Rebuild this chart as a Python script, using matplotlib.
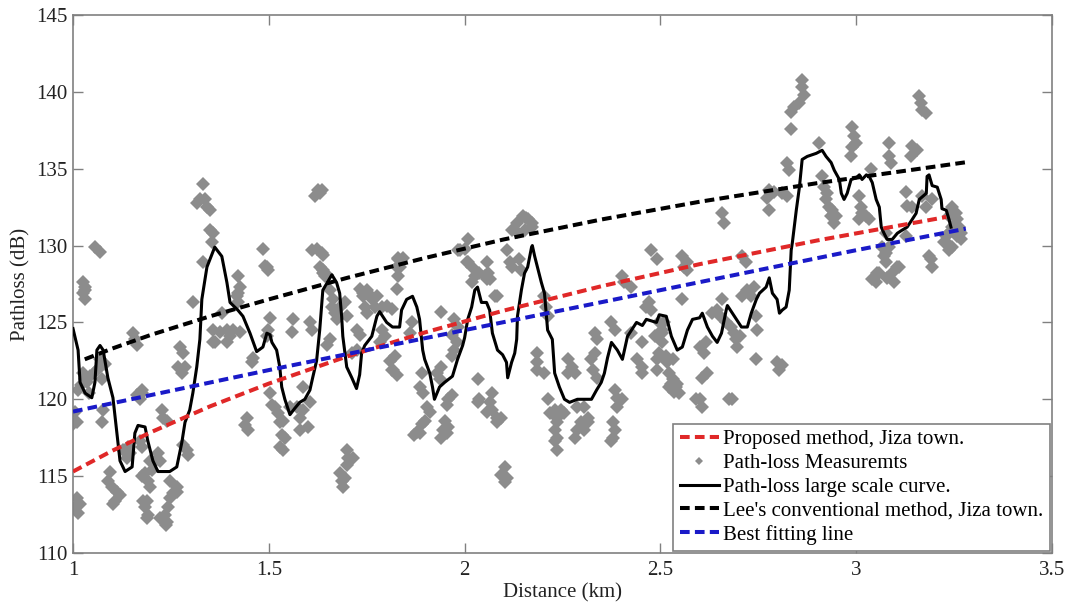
import matplotlib
matplotlib.use("Agg")
import matplotlib.pyplot as plt
from matplotlib.lines import Line2D

# === Data ===
# model curves (distance km, path loss dB)
proposed_d = [1.00, 1.10, 1.20, 1.35, 1.50, 1.70, 1.90, 2.10, 2.35, 2.60, 2.90, 3.23]
proposed_pl = [115.3, 116.65, 117.87, 119.54, 121.02, 122.79, 124.36, 125.77, 127.36, 128.79, 130.33, 131.86]

lee_d = [1.03, 1.10, 1.20, 1.35, 1.50, 1.70, 1.90, 2.10, 2.35, 2.60, 2.90, 3.28]
lee_pl = [122.6, 123.3, 124.2, 125.4, 126.5, 127.9, 129.2, 130.4, 131.7, 132.85, 134.06, 135.42]

fit_d = [1.00, 1.50, 2.00, 2.50, 3.00, 3.28]
fit_pl = [119.2, 121.9, 124.5, 127.1, 129.7, 131.1]

# large scale curve
large_d = [1.000, 1.013, 1.018, 1.031, 1.048, 1.056, 1.061, 1.069, 1.077, 1.089, 1.102, 1.112, 1.120,
           1.133, 1.151, 1.158, 1.166, 1.184, 1.191, 1.204, 1.217, 1.247, 1.265, 1.278, 1.286, 1.298,
           1.306, 1.316, 1.324, 1.329, 1.342, 1.362, 1.380, 1.393, 1.401, 1.421, 1.434, 1.452, 1.469,
           1.485, 1.495, 1.503, 1.508, 1.520, 1.528, 1.533, 1.541, 1.554, 1.566, 1.579, 1.592, 1.605,
           1.612, 1.622, 1.630, 1.638, 1.661, 1.673, 1.681, 1.686, 1.689, 1.699, 1.712, 1.724, 1.732,
           1.737, 1.745, 1.763, 1.776, 1.783, 1.801, 1.816, 1.834,
           1.839, 1.852, 1.867, 1.878, 1.885, 1.893, 1.898, 1.911, 1.918, 1.923, 1.936, 1.949, 1.969,
           1.982, 1.995, 2.000, 2.008, 2.018, 2.026, 2.033, 2.043, 2.056, 2.064, 2.071, 2.084, 2.097,
           2.107, 2.110, 2.120, 2.128, 2.133, 2.135, 2.145, 2.153, 2.161, 2.171, 2.173, 2.179, 2.186,
           2.196, 2.204, 2.209, 2.212, 2.224, 2.230, 2.242, 2.255, 2.268, 2.288, 2.324, 2.337, 2.349,
           2.357, 2.365, 2.375, 2.390, 2.403, 2.416, 2.439, 2.454, 2.464, 2.490,
           2.497, 2.515, 2.528, 2.543, 2.556, 2.569, 2.582, 2.600, 2.607, 2.620, 2.633, 2.645, 2.656,
           2.668, 2.671, 2.689, 2.707, 2.722, 2.732, 2.745, 2.753, 2.770, 2.778, 2.786, 2.798, 2.804,
           2.811, 2.821, 2.829, 2.834, 2.837, 2.847, 2.855, 2.862, 2.875, 2.898, 2.913, 2.923, 2.936,
           2.944, 2.957, 2.962, 2.969, 2.977, 2.987, 3.000, 3.008, 3.015, 3.026, 3.033, 3.041, 3.051,
           3.059, 3.064, 3.071, 3.079, 3.092, 3.105, 3.117, 3.130, 3.143, 3.153, 3.161, 3.179, 3.181,
           3.186, 3.194, 3.207, 3.217, 3.219, 3.230, 3.237, 3.242]
large_pl = [124.6, 123.2, 121.1, 120.4, 120.1, 121.1, 123.2, 123.5, 123.2, 121.4, 120.1, 117.8, 116.0,
            115.3, 115.6, 117.8, 118.3, 118.2, 117.3, 116.0, 115.3, 115.3, 115.6, 117.2, 118.5, 119.3,
            120.4, 122.1, 123.9, 126.5, 128.6, 129.9, 129.3, 127.6, 126.3, 125.8, 125.4, 124.3, 123.1,
            123.4, 124.3, 124.2, 123.7, 123.2, 122.1, 120.8, 120.0, 119.0, 119.4, 119.8, 120.0, 120.6,
            121.4, 122.5, 124.5, 127.1, 128.1, 127.6, 126.9, 125.4, 124.1, 122.1, 121.4, 120.7, 121.6,
            123.0, 123.5, 124.1, 125.4, 125.7, 125.0, 124.7, 124.7,
            125.8, 126.5, 126.7, 126.0, 125.2, 123.2, 122.6, 121.7, 120.8, 120.0, 120.8, 121.1, 121.5,
            122.6, 123.5, 124.0, 125.2, 126.0, 127.1, 127.3, 126.3, 126.3, 125.8, 124.3, 123.2, 122.9,
            122.4, 121.4, 122.4, 123.0, 123.9, 125.4, 127.1, 128.2, 128.6, 129.9, 130.0, 129.3, 128.6,
            127.6, 126.9, 125.4, 124.5, 123.9, 121.7, 120.8, 120.0, 119.8, 120.0, 120.0, 120.6, 121.1,
            121.7, 122.7, 123.7, 123.2, 122.6, 124.1, 125.0, 124.8, 125.2, 125.0,
            125.5, 125.4, 124.1, 123.2, 123.4, 124.5, 125.2, 125.3, 125.6, 124.7, 124.1, 123.7, 124.3,
            125.8, 126.1, 125.4, 124.7, 124.7, 125.6, 126.5, 126.9, 127.3, 127.9, 126.9, 126.5, 125.6,
            125.8, 126.0, 127.1, 129.7, 130.2, 132.3, 133.8, 135.6, 135.8, 136.0, 136.2, 135.8, 135.4,
            134.9, 134.3, 133.4, 133.0, 133.4, 134.3, 134.4, 134.6, 134.3, 134.6, 134.5, 134.1, 133.0,
            132.5, 131.2, 130.8, 130.4, 130.4, 130.8, 131.0, 131.2, 131.7, 132.1, 133.0, 133.4, 134.5,
            134.6, 133.9, 133.8, 133.0, 132.4, 132.3, 131.7, 131.2]

# path-loss measurements
meas_d = [
    1.031, 1.026, 1.031, 1.056, 1.069, 1.332, 1.324, 1.316, 1.337, 1.342, 1.349, 1.349, 1.357, 1.354, 1.332,
    1.485, 1.495, 1.498, 1.625, 1.630, 1.617, 1.635, 1.610, 1.622, 1.635, 1.630, 1.638, 1.643, 1.421, 1.426, 1.421, 1.750, 1.740, 1.829, 1.827,
    1.026, 1.031, 1.306, 1.418, 1.421, 1.380, 1.357, 1.375, 1.393, 1.408, 1.426, 1.362, 1.401, 1.503, 1.498, 1.495, 1.490, 1.561, 1.559, 1.605,
    1.610, 1.638, 1.638, 1.648, 1.656, 1.663, 1.668, 1.673, 1.661, 1.681, 1.694, 1.699, 1.724, 1.732, 1.732, 1.740, 1.745, 1.750, 1.656, 1.648,
    1.005, 1.010, 1.000, 1.010, 1.018, 1.013, 1.005, 1.026, 1.036, 1.043, 1.061, 1.069, 1.074, 1.077, 1.074, 1.094, 1.089, 1.099, 1.112, 1.107,
    1.102, 1.120, 1.128, 1.138, 1.145, 1.140, 1.176, 1.171, 1.176, 1.176, 1.184, 1.191, 1.196, 1.189, 1.184, 1.189, 1.202, 1.209, 1.196, 1.227,
    1.230, 1.240, 1.217, 1.222, 1.247, 1.265, 1.255, 1.247, 1.242, 1.235, 1.240, 1.265, 1.281, 1.291, 1.294, 1.273, 1.281, 1.268, 1.278, 1.286,
    1.357, 1.393, 1.459, 1.457, 1.444, 1.439, 1.446, 1.503, 1.508, 1.515, 1.523, 1.528, 1.536, 1.533, 1.541, 1.528, 1.536, 1.554, 1.571, 1.587,
    1.579, 1.579, 1.599, 1.587, 1.605, 1.699, 1.702, 1.714, 1.699, 1.681, 1.686, 1.689, 1.694, 1.712, 1.724, 1.153, 1.158, 1.163, 1.176,
    1.829, 1.842, 1.834, 1.829, 1.827, 1.763, 1.776, 1.770, 1.788, 1.801, 1.814, 1.753, 1.788, 1.796, 1.783, 1.865, 1.860, 1.941, 1.974, 1.982,
    1.969, 1.980, 1.982, 2.008, 2.000, 2.008, 2.018, 2.026, 2.020, 2.051, 2.059, 2.064, 2.077, 2.084, 2.056, 2.120, 2.133, 2.148, 2.161, 2.135,
    2.153, 2.171, 2.107, 2.115, 2.120, 2.140, 2.145, 2.204, 2.209, 2.212, 2.332, 2.339, 2.375, 2.383, 2.401, 2.408, 2.426, 2.472, 2.477, 2.477,
    2.492, 2.452, 2.485, 2.503, 2.510, 2.426, 1.821, 1.814, 1.827, 1.890, 1.885, 1.893, 1.903, 1.911, 1.898, 1.890, 1.878, 1.872, 1.885, 1.929,
    1.941, 1.936, 1.957, 1.967, 1.954, 1.949, 1.957, 1.944, 1.941, 1.954, 1.969, 1.974, 2.033, 2.038, 2.033, 2.069, 2.064, 2.056, 2.071, 2.082,
    2.084, 2.094, 2.102, 2.094, 2.107, 2.102, 2.184, 2.186, 2.184, 2.204, 2.212, 2.217, 2.230, 2.237, 2.235, 2.230, 2.237, 2.230, 2.235, 2.247,
    2.255, 2.263, 2.273, 2.263, 2.281, 2.288, 2.306, 2.314, 2.298, 2.288, 2.281, 2.306, 2.314, 2.324, 2.332, 2.327, 2.337, 2.383, 2.390, 2.401,
    2.388, 2.378, 2.383, 2.378, 2.375, 2.441, 2.452, 2.454, 2.492, 2.492, 2.600, 2.612, 2.620, 2.607, 2.633, 2.676, 2.745, 2.464, 2.505, 2.515,
    2.531, 2.523, 2.531, 2.541, 2.548, 2.523, 2.600, 1.816, 1.809, 2.497, 2.503, 2.497, 2.518, 2.528, 2.543, 2.536, 2.592, 2.607, 2.684, 2.617,
    2.645, 2.651, 2.658, 2.668, 2.681, 2.689, 2.694, 2.702, 2.696, 2.709, 2.722, 2.740, 2.732, 2.745, 2.747, 2.798, 2.811, 2.804, 2.556, 2.569,
    2.556, 3.041, 3.054, 3.051, 3.092, 3.097, 3.105, 3.071, 3.077, 3.191, 3.194, 2.862, 2.862, 2.867, 2.855, 2.842, 2.834, 2.834, 2.906, 2.824,
    2.829, 2.778, 2.773, 2.778, 2.791, 2.811, 2.824, 2.658, 2.663, 2.913, 2.918, 2.926, 2.923, 2.931, 2.939, 2.949, 2.936, 2.944, 2.990, 2.995,
    2.990, 2.987, 3.000, 3.008, 3.013, 3.015, 3.026, 3.033, 3.008, 3.038, 3.084, 3.084, 3.089, 3.161, 3.166, 3.168, 3.179, 3.143, 3.156, 3.140,
    3.128, 3.130, 3.143, 3.168, 3.179, 3.194, 3.245, 3.255, 3.258, 3.263, 3.268, 3.237, 3.245, 3.258, 3.268, 3.230, 3.224, 3.237, 3.077, 3.084,
    3.077, 3.128, 3.059, 3.079, 3.110, 3.186, 3.230, 3.245, 3.237, 3.066, 1.987, 2.005, 2.038, 2.056, 2.158, 2.171, 2.719, 2.561, 2.569, 2.709,
    1.013, 1.020, 1.031, 1.040, 1.064, 1.082, 1.163, 1.171, 1.222, 1.237, 1.179, 1.191,
]
meas_pl = [
    127.3, 126.9, 126.5, 129.9, 129.6, 134.0, 133.0, 132.8, 133.0, 132.5, 132.3, 131.0, 130.8, 130.2, 128.9,
    129.8, 128.6, 128.4, 133.6, 133.4, 133.2, 133.6, 129.7, 129.8, 129.5, 128.6, 128.2, 128.0, 128.0, 127.3, 126.9, 127.1, 126.7, 129.1, 128.6,
    127.6, 127.1, 126.3, 126.7, 126.3, 125.6, 124.5, 124.4, 124.5, 124.5, 124.4, 123.7, 124.1, 125.3, 124.5, 124.1, 128.7, 125.2, 124.4, 125.0,
    124.5, 129.4, 128.4, 128.1, 127.1, 126.5, 125.6, 125.2, 126.0, 126.0, 126.3, 125.4, 124.5, 124.2, 127.2, 126.9, 126.0, 125.6, 123.9, 123.5,
    119.2, 118.5, 118.4, 113.6, 113.2, 112.6, 113.0, 121.7, 121.1, 121.5, 121.9, 122.6, 121.3, 119.3, 118.5, 115.3, 114.7, 114.3, 114.0, 113.4,
    113.2, 113.8, 116.7, 116.2, 116.5, 116.9, 120.4, 117.3, 116.9, 115.0, 115.2, 114.7, 114.3, 113.4, 113.0, 112.3, 115.4, 116.0, 116.0, 119.3,
    118.8, 118.6, 116.5, 116.0, 114.7, 114.3, 113.9, 113.6, 113.0, 112.5, 112.0, 114.0, 117.0, 116.7, 116.4, 123.4, 123.0, 122.1, 121.7, 122.1,
    123.7, 123.7, 122.7, 122.4, 118.8, 118.3, 118.0, 120.4, 119.6, 119.5, 119.1, 118.5, 118.6, 117.7, 117.5, 116.9, 116.7, 119.5, 119.5, 119.3,
    118.8, 118.0, 118.2, 120.8, 119.8, 116.7, 116.2, 116.2, 115.7, 115.2, 114.7, 114.3, 114.9, 123.0, 123.2, 124.3, 123.9, 123.5, 120.6,
    129.2, 129.2, 128.6, 128.0, 127.2, 126.5, 126.7, 126.0, 126.0, 126.1, 125.9, 126.9, 124.5, 124.1, 123.7, 125.0, 124.3, 125.7, 125.2, 124.7,
    124.2, 123.7, 129.7, 130.4, 129.8, 128.9, 128.6, 128.0, 127.6, 128.0, 128.2, 127.8, 126.7, 126.7, 128.9, 131.0, 131.5, 131.9, 131.7, 130.9,
    131.0, 131.2, 129.7, 128.9, 128.6, 129.1, 128.4, 126.7, 126.0, 125.4, 124.3, 123.9, 125.0, 124.5, 128.0, 127.6, 127.3, 126.3, 125.8, 129.7,
    129.1, 123.7, 124.1, 124.5, 125.0, 124.3, 122.8, 121.9, 121.6, 121.7, 120.8, 120.4, 119.5, 119.2, 118.6, 118.4, 117.9, 117.7, 117.8, 121.7,
    122.1, 121.3, 120.0, 120.3, 119.6, 118.6, 118.2, 118.0, 117.5, 117.8, 122.8, 123.2, 121.3, 120.0, 119.8, 120.4, 119.8, 119.2, 119.3, 118.8,
    118.5, 118.8, 115.6, 115.1, 114.9, 114.6, 123.0, 122.4, 121.9, 121.7, 120.0, 119.1, 119.3, 118.8, 118.5, 118.0, 117.5, 117.3, 116.7, 119.3,
    119.1, 122.6, 122.1, 121.7, 121.7, 119.5, 119.5, 118.8, 118.5, 118.0, 117.5, 118.0, 118.5, 122.6, 123.0, 121.9, 121.4, 120.6, 120.1, 120.0,
    119.5, 118.5, 118.0, 117.5, 117.3, 122.6, 122.1, 121.7, 122.6, 121.9, 123.4, 123.0, 121.7, 121.4, 125.6, 120.0, 122.6, 126.0, 124.3, 122.8,
    122.6, 121.7, 121.3, 120.8, 120.4, 120.8, 120.0, 121.9, 122.5, 125.0, 123.7, 123.0, 122.4, 121.0, 121.0, 120.5, 120.0, 119.5, 120.0, 123.7,
    125.8, 125.4, 126.5, 125.0, 124.7, 124.3, 123.9, 124.1, 123.4, 126.7, 127.1, 127.3, 126.7, 125.4, 124.5, 122.4, 122.2, 121.9, 129.3, 128.9,
    126.5, 127.8, 128.2, 127.6, 128.2, 127.6, 128.6, 129.3, 128.9, 129.1, 128.6, 140.8, 140.3, 139.8, 139.3, 139.0, 138.7, 137.6, 136.7, 135.4,
    134.9, 133.6, 133.1, 132.3, 133.5, 133.4, 133.2, 132.1, 131.5, 134.5, 133.8, 133.4, 133.0, 132.5, 132.3, 131.9, 131.9, 131.5, 137.7, 137.1,
    136.4, 135.8, 136.7, 133.2, 132.5, 132.1, 131.9, 131.7, 131.7, 135.0, 136.7, 135.8, 135.4, 139.7, 139.3, 138.8, 138.6, 136.5, 136.2, 135.8,
    133.5, 132.6, 132.5, 133.2, 132.5, 133.0, 132.5, 132.1, 131.7, 131.2, 130.8, 131.9, 131.2, 130.6, 130.4, 130.6, 130.2, 129.7, 130.8, 129.9,
    129.5, 130.6, 128.2, 127.9, 128.6, 129.3, 130.2, 129.9, 130.8, 129.9, 129.7, 128.9, 128.2, 127.8, 131.8, 131.5, 128.9, 128.6, 128.4, 129.3,
    120.6, 120.9, 121.3, 120.4, 122.0, 122.3, 120.3, 120.0, 112.3, 111.8, 113.4, 112.5,
]
assert len(meas_d) == len(meas_pl)
assert len(large_d) == len(large_pl)

x_ticks = [1, 1.5, 2, 2.5, 3, 3.5]
x_ticklabels = ["1", "1.5", "2", "2.5", "3", "3.5"]
y_ticks = [110, 115, 120, 125, 130, 135, 140, 145]

# === Style ===
plt.rcParams["font.family"] = ["Liberation Serif", "DejaVu Serif"]
plt.rcParams["font.size"] = 15

frame_col = "#808080"
red = "#e02828"
blue = "#1a1ac8"
gray = "#8c8c8c"
dash = (0, (2.4, 1.3))

fig = plt.figure(figsize=(10.65, 6.06), dpi=100)
ax = fig.add_axes([73 / 1065, 1 - 553 / 606, (1052 - 73) / 1065, (553 - 15) / 606])

ax.plot(meas_d, meas_pl, linestyle="none", marker="D", ms=6.8, mew=0, color=gray, zorder=2)
ax.plot(large_d, large_pl, color="black", lw=2.2, zorder=3)
ax.plot(proposed_d, proposed_pl, color=red, lw=2.9, ls=dash, zorder=4)
ax.plot(lee_d, lee_pl, color="black", lw=2.9, ls=dash, zorder=4)
ax.plot(fit_d, fit_pl, color=blue, lw=2.9, ls=dash, zorder=4)

ax.set_xlim(1, 3.5)
ax.set_ylim(110, 145)
ax.set_xticks(x_ticks)
ax.set_xticklabels(x_ticklabels)
ax.set_yticks(y_ticks)
ax.tick_params(direction="in", top=True, right=True, length=7, width=1, color=frame_col,
               labelcolor="#222222", labelsize=15)
ax.tick_params(axis="x", pad=6)
ax.tick_params(axis="y", pad=4)
for s in ax.spines.values():
    s.set_color(frame_col)
    s.set_linewidth(1.2)

ax.set_xlabel("Distance (km)", fontsize=15, color="#222222", labelpad=2)
ax.set_ylabel("Pathloss (dB)", fontsize=15, color="#222222", labelpad=4)

handles = [
    Line2D([], [], color=red, lw=2.9, ls=dash),
    Line2D([], [], color=gray, ls="none", marker="D", ms=4, mew=0),
    Line2D([], [], color="black", lw=2.2),
    Line2D([], [], color="black", lw=2.9, ls=dash),
    Line2D([], [], color=blue, lw=2.9, ls=dash),
]
labels = ["Proposed method, Jiza town.", "Path-loss Measuremts", "Path-loss large scale curve.",
          "Lee's conventional method, Jiza town.", "Best fitting line"]
leg = ax.legend(handles, labels, loc="lower right", fontsize=15, numpoints=1, handlelength=1.9,
                handletextpad=0.2, labelspacing=0.2, borderpad=0.3, borderaxespad=0.1,
                fancybox=False, framealpha=1, edgecolor=frame_col)
leg.get_frame().set_linewidth(1.2)
leg.set_zorder(10)

fig.savefig("out.png", dpi=100)
